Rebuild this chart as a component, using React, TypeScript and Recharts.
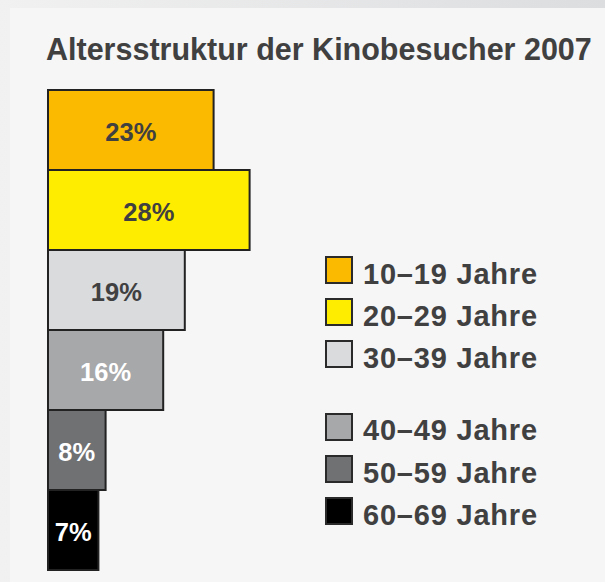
import { BarChart, Bar, XAxis, YAxis, Cell, LabelList } from 'recharts'

const AGE_GROUPS = ['10–19 Jahre', '20–29 Jahre', '30–39 Jahre', '40–49 Jahre', '50–59 Jahre', '60–69 Jahre']
const SHARES = [23, 28, 19, 16, 8, 7]
const COLORS = ['#fbb900', '#ffed00', '#dadbdc', '#a7a8aa', '#707173', '#000000']
const LABEL_COLORS = ['#404041', '#404041', '#404041', '#ffffff', '#ffffff', '#ffffff']

const data = AGE_GROUPS.map((group, i) => ({ group, share: SHARES[i] }))

const TEXT = '#404041'
const FONT = '"Liberation Sans", Arial, Helvetica, sans-serif'

function BarLabel(props: any) {
  const { x, y, width, height, value, index } = props
  return (
    <text
      x={x + width / 2}
      y={y + height / 2 + 10.5}
      textAnchor="middle"
      fill={LABEL_COLORS[index]}
      style={{ fontFamily: FONT, fontWeight: 700, fontSize: 25.5 }}
    >
      {value}%
    </text>
  )
}

// legend rows: 42px apart, with an extra gap after the third entry
function AgeLegend() {
  return (
    <div style={{ position: 'absolute', left: 325, top: 256, fontFamily: FONT }}>
      {AGE_GROUPS.map((g, i) => {
        const top = i * 42.2 + (i >= 3 ? 30 : 0)
        return (
          <div key={g} style={{ position: 'absolute', left: 0, top }}>
            <div
              style={{
                width: 24,
                height: 24,
                background: COLORS[i],
                border: '2px solid #2a2a2a',
              }}
            />
            <span
              style={{
                position: 'absolute',
                left: 38,
                top: 3.8,
                fontSize: 29,
                lineHeight: '29px',
                fontWeight: 700,
                letterSpacing: 0.8,
                color: TEXT,
                whiteSpace: 'nowrap',
              }}
            >
              {g}
            </span>
          </div>
        )
      })}
    </div>
  )
}

export default function App() {
  return (
    <div
      style={{
        position: 'fixed',
        left: 0,
        top: 0,
        width: 605,
        height: 582,
        background: 'linear-gradient(to right, #f1f1f1, #dcdddf)',
        overflow: 'hidden',
      }}
    >
      <div
        style={{
          position: 'absolute',
          left: 10,
          top: 8,
          width: 620,
          height: 600,
          background: '#f6f6f6',
        }}
      />
      <div
        style={{
          position: 'absolute',
          left: 46,
          top: 33.5,
          fontFamily: FONT,
          fontWeight: 700,
          fontSize: 30.5,
          lineHeight: '30.5px',
          color: TEXT,
          whiteSpace: 'nowrap',
        }}
      >
        Altersstruktur der Kinobesucher 2007
      </div>
      <div style={{ position: 'absolute', left: 0, top: 0 }}>
        <BarChart
          width={605}
          height={582}
          data={data}
          layout="vertical"
          barCategoryGap={0}
          margin={{ top: 90, right: 17, bottom: 12, left: 48 }}
        >
          <XAxis type="number" domain={[0, 75]} hide />
          <YAxis type="category" dataKey="group" hide width={0} />
          <Bar dataKey="share" stroke="#222222" strokeWidth={2} isAnimationActive={false}>
            {data.map((d, i) => (
              <Cell key={d.group} fill={COLORS[i]} />
            ))}
            <LabelList dataKey="share" content={BarLabel} />
          </Bar>
        </BarChart>
      </div>
      <AgeLegend />
    </div>
  )
}
